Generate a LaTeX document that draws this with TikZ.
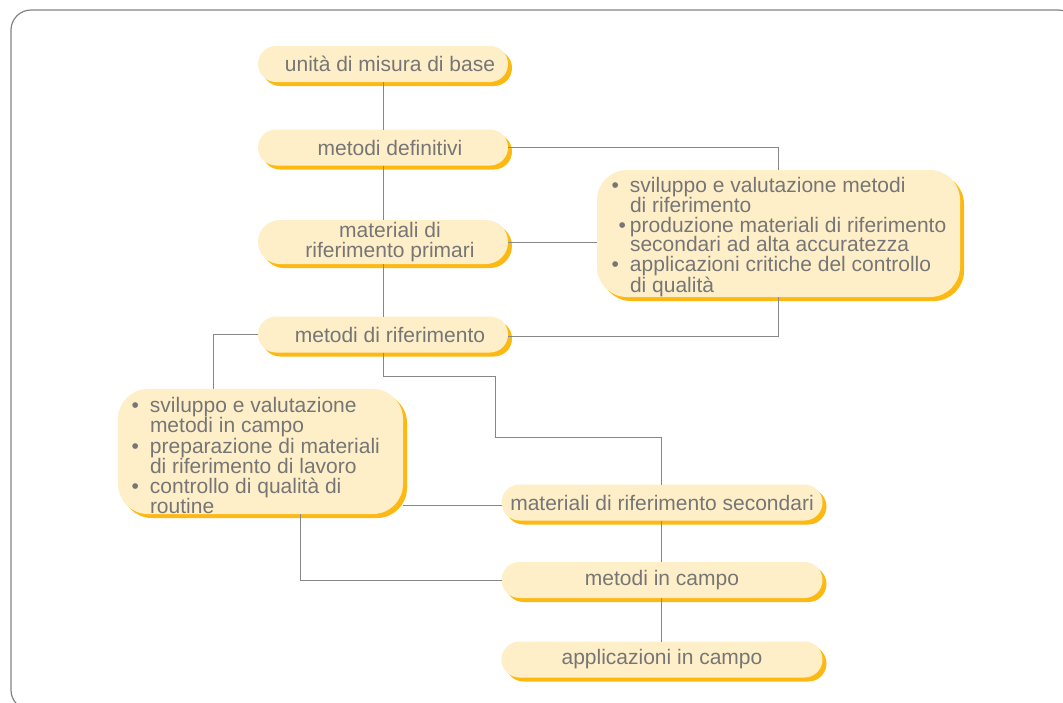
\documentclass[tikz,border=0pt]{standalone}
\usepackage{fontspec}
\setmainfont{Liberation Sans}
\usetikzlibrary{shadows}
\definecolor{cream}{RGB}{255,239,200}
\definecolor{amber}{RGB}{253,185,19}
\definecolor{wire}{RGB}{135,135,135}
\definecolor{ink}{RGB}{118,118,118}
\definecolor{framegrey}{RGB}{130,130,130}
\newcommand*{\labelfont}{\fontsize{21}{19.7}\selectfont\lineskiplimit=-4pt}
\newcommand*{\dotitem}[1][11pt]{\leavevmode\llap{\textbullet\hspace{#1}}}
\newcommand*{\nudge}{\hspace*{14pt}}
\tikzstyle{base}=[x=1pt, y=-1pt, inner sep=0pt, outer sep=0pt]
\tikzstyle{pill}=[fill=cream, text=ink, font=\labelfont, align=center,
    minimum height=36pt, rounded corners=18pt,
    drop shadow={shadow xshift=4pt, shadow yshift=-4pt, fill=amber, opacity=1}]
\tikzstyle{infobox}=[pill, rounded corners=30pt, inner xsep=9pt]
\tikzstyle{link}=[draw=wire, line width=1pt]
\tikzstyle{frame}=[draw=framegrey, line width=1.2pt, rounded corners=20pt]

\begin{document}
\begin{tikzpicture}[base]
    \useasboundingbox (0,0) rectangle (1063,702);
    \draw [frame] (11,10) rectangle (1078,710);

    % central column
    \node [pill, minimum width=250pt] (unita) at (383,64) {\nudge unità di misura di base};
    \node [pill, minimum width=250pt] (definitivi) at (383,147.5) {\nudge metodi definitivi};
    \node [pill, minimum width=250pt, minimum height=44pt, rounded corners=22pt] (primari) at (383,242) {\nudge materiali di\\\nudge riferimento primari};
    \node [pill, minimum width=250pt] (riferimento) at (383,334.5) {\nudge metodi di riferimento};
    \node [pill, minimum width=321pt] (secondari) at (662,502.5) {materiali di riferimento secondari};
    \node [pill, minimum width=321pt] (campo) at (662,580) {metodi in campo};
    \node [pill, minimum width=321pt] (applicazioni) at (662,659.5) {applicazioni in campo};

    % bullet boxes
    \node [infobox, minimum width=363pt, minimum height=127pt] (usiprimari) at (778.5,233.5)
        {\parbox{345pt}{\vspace*{7pt}\leftskip=24pt
        \dotitem sviluppo e valutazione metodi\\
        di riferimento\\
        \dotitem[4pt]produzione materiali di riferimento\\
        secondari ad alta accuratezza\\
        \dotitem applicazioni critiche del controllo\\
        di qualità}};
    \node [infobox, minimum width=285pt, minimum height=123pt] (usisecondari) at (260.5,451.5)
        {\parbox{267pt}{\vspace*{8pt}\leftskip=23pt\baselineskip=19.3pt
        \dotitem sviluppo e valutazione\\
        metodi in campo\\
        \dotitem preparazione di materiali\\
        di riferimento di lavoro\\
        \dotitem controllo di qualità di\\
        routine}};

    \coordinate (gomitoA) at (495,376);
    \coordinate (gomitoB) at (495,437);

    \draw [link] (unita.south) -- (definitivi.north);
    \draw [link] (definitivi.south) -- (primari.north);
    \draw [link] (primari.south) -- (riferimento.north);
    \draw [link] (definitivi.east) -| (usiprimari.north);
    \draw [link] (primari.east) -- (primari.east -| usiprimari.west);
    \draw [link] (usiprimari.south) |- ([yshift=-1.5pt]riferimento.east);
    \draw [link] (riferimento.west) -| ([xshift=-47.5pt]usisecondari.north);
    \draw [link] (riferimento.south) |- (gomitoA) -- (gomitoB) -| ([xshift=-1pt]secondari.north);
    \draw [link] ([yshift=-2.5pt]secondari.west) -- ([yshift=-2.5pt]secondari.west -| usisecondari.east);
    \draw [link] (campo.west) -| ([xshift=39.5pt]usisecondari.south);
    \draw [link] ([xshift=-1pt]secondari.south) -- ([xshift=-1pt]campo.north);
    \draw [link] ([xshift=-1pt]campo.south) -- ([xshift=-1pt]applicazioni.north);
\end{tikzpicture}
\end{document}
